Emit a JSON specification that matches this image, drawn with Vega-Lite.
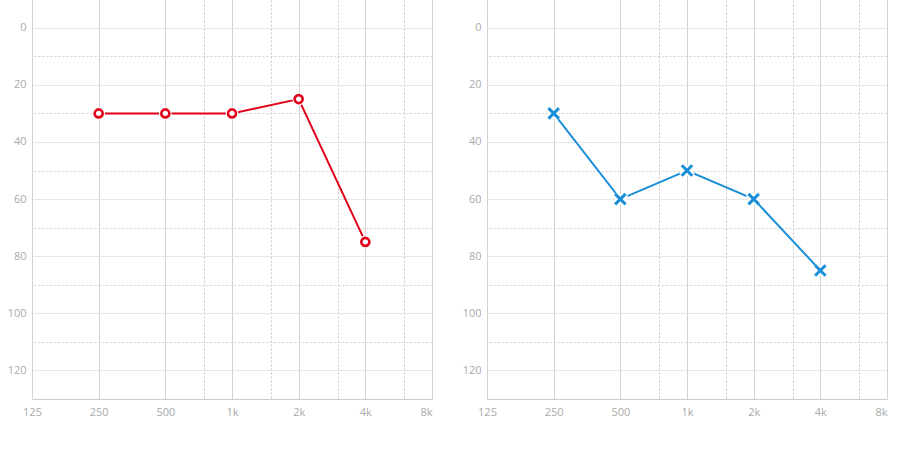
{
  "$schema": "https://vega.github.io/schema/vega-lite/v6.json",
  "padding": {"left": 7, "top": 0, "right": 5, "bottom": 5},
  "background": "white",
  "spacing": 30,
  "config": {
    "view": {"stroke": null},
    "font": "Open Sans",
    "axis": {"labelFont": "Open Sans", "labelFontSize": 11, "labelColor": "#aaaaaa", "title": null}
  },
  "datasets": {
    "right": [
      {"freq": 250, "db": 30},
      {"freq": 500, "db": 30},
      {"freq": 1000, "db": 30},
      {"freq": 2000, "db": 25},
      {"freq": 4000, "db": 75}
    ],
    "left": [
      {"freq": 250, "db": 30},
      {"freq": 500, "db": 60},
      {"freq": 1000, "db": 50},
      {"freq": 2000, "db": 60},
      {"freq": 4000, "db": 85}
    ]
  },
  "hconcat": [
    {
      "width": 400,
      "height": 399,
      "data": {"name": "right"},
      "resolve": {"axis": {"x": "independent", "y": "independent"}},
      "layer": [
        {
          "mark": {"type": "line", "color": "#e2001a", "strokeWidth": 2},
          "encoding": {
            "x": {"field": "freq", "type": "quantitative",
              "scale": {"type": "log", "base": 2, "domain": [125, 8000], "nice": false},
              "axis": {"values": [125, 250, 500, 1000, 2000, 4000, 8000], "labelExpr": "datum.value >= 1000 ? (datum.value/1000) + 'k' : datum.value",
                "grid": true, "gridColor": "#d2d2d2", "domainColor": "#cccccc", "ticks": false, "labelPadding": 7,
                "labelAlign": {"condition": {"test": "datum.value >= 8000", "value": "right"}, "value": "center"}}},
            "y": {"field": "db", "type": "quantitative",
              "scale": {"domain": [-9.7, 130], "nice": false, "reverse": true, "zero": false},
              "axis": {"values": [0, 20, 40, 60, 80, 100, 120], "grid": true, "gridColor": "#e6e6e6", "domain": false, "ticks": false, "labelPadding": 6}}
          }
        },
        {
          "mark": {"type": "point", "shape": "circle", "filled": true, "color": "white", "size": 160, "opacity": 1},
          "encoding": {
            "x": {"field": "freq", "type": "quantitative",
              "axis": {"orient": "top", "values": [750, 1500, 3000, 6000], "labels": false, "ticks": false, "domain": false,
                "grid": true, "gridColor": "#c8c8c8", "gridDash": [2, 2]}},
            "y": {"field": "db", "type": "quantitative",
              "axis": {"orient": "right", "values": [10, 30, 50, 70, 90, 110], "labels": false, "ticks": false, "domain": false,
                "grid": true, "gridColor": "#d0d0d0", "gridDash": [2, 2]}}
          }
        },
        {
          "mark": {"type": "point", "shape": "circle", "filled": false, "fill": "white", "stroke": "#e2001a", "strokeWidth": 2.6, "size": 64, "opacity": 1},
          "encoding": {
            "x": {"field": "freq", "type": "quantitative", "axis": null},
            "y": {"field": "db", "type": "quantitative", "axis": null}
          }
        }
      ]
    },
    {
      "width": 400,
      "height": 399,
      "data": {"name": "left"},
      "resolve": {"axis": {"x": "independent", "y": "independent"}},
      "layer": [
        {
          "mark": {"type": "line", "color": "#1a8fd8", "strokeWidth": 2},
          "encoding": {
            "x": {"field": "freq", "type": "quantitative",
              "scale": {"type": "log", "base": 2, "domain": [125, 8000], "nice": false},
              "axis": {"values": [125, 250, 500, 1000, 2000, 4000, 8000], "labelExpr": "datum.value >= 1000 ? (datum.value/1000) + 'k' : datum.value",
                "grid": true, "gridColor": "#d2d2d2", "domainColor": "#cccccc", "ticks": false, "labelPadding": 7,
                "labelAlign": {"condition": {"test": "datum.value >= 8000", "value": "right"}, "value": "center"}}},
            "y": {"field": "db", "type": "quantitative",
              "scale": {"domain": [-9.7, 130], "nice": false, "reverse": true, "zero": false},
              "axis": {"values": [0, 20, 40, 60, 80, 100, 120], "grid": true, "gridColor": "#e6e6e6", "domain": false, "ticks": false, "labelPadding": 6}}
          }
        },
        {
          "mark": {"type": "point", "shape": "M-1,-1L1,1M1,-1L-1,1", "filled": false, "stroke": "white", "strokeWidth": 7, "size": 110, "opacity": 1},
          "encoding": {
            "x": {"field": "freq", "type": "quantitative",
              "axis": {"orient": "top", "values": [750, 1500, 3000, 6000], "labels": false, "ticks": false, "domain": false,
                "grid": true, "gridColor": "#c8c8c8", "gridDash": [2, 2]}},
            "y": {"field": "db", "type": "quantitative",
              "axis": {"orient": "right", "values": [10, 30, 50, 70, 90, 110], "labels": false, "ticks": false, "domain": false,
                "grid": true, "gridColor": "#d0d0d0", "gridDash": [2, 2]}}
          }
        },
        {
          "mark": {"type": "point", "shape": "M-1,-1L1,1M1,-1L-1,1", "filled": false, "stroke": "#1a8fd8", "strokeWidth": 3, "size": 110, "opacity": 1},
          "encoding": {
            "x": {"field": "freq", "type": "quantitative", "axis": null},
            "y": {"field": "db", "type": "quantitative", "axis": null}
          }
        }
      ]
    }
  ]
}
